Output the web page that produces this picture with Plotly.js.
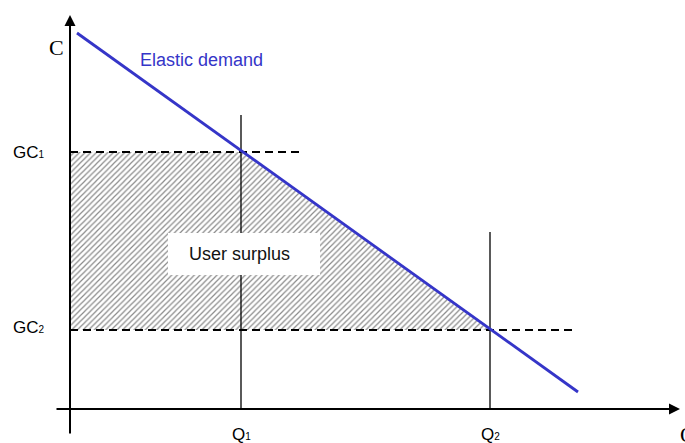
<!DOCTYPE html>
<html><head><meta charset="utf-8">
<script src="https://cdn.plot.ly/plotly-3.0.1.min.js"></script>
<style>html,body{margin:0;padding:0;background:#fff}#chart{width:685px;height:443px}</style>
</head><body><div id="chart"></div>
<script>
// Conceptual coordinates: origin at the axes' intersection
const demandQ = [7, 508];
const demandC = [376, 17];
const Q1 = 171, Q2 = 420;
const GC1 = 257, GC2 = 79;
const Q1Top = 294, Q2Top = 177;
const GC1End = 232, GC2End = 502;
const surplusQ = [0, Q1, Q2, 0, 0];
const surplusC = [GC1, GC1, GC2, GC2, GC1];
const sub = s => "<span style='font-size:10px'>" + s + "</span>";
const tickLabels = {gc1: 'GC' + sub('1'), gc2: 'GC' + sub('2'), q1: 'Q' + sub('1'), q2: 'Q' + sub('2')};

const traces = [
  {x: surplusQ, y: surplusC, mode: 'lines', fill: 'toself', line: {width: 0, color: 'rgba(0,0,0,0)'},
   fillcolor: 'white',
   fillpattern: {shape: '/', fgcolor: '#8a8a8a', bgcolor: 'white', size: 4, solidity: 0.3}, hoverinfo: 'skip'},
  {x: [Q1, Q1], y: [0, Q1Top], mode: 'lines', line: {color: 'black', width: 1.3}},
  {x: [Q2, Q2], y: [0, Q2Top], mode: 'lines', line: {color: 'black', width: 1.3}},
  {x: [0, GC1End], y: [GC1, GC1], mode: 'lines', line: {color: 'black', width: 2, dash: '8px,5px'}},
  {x: [0, GC2End], y: [GC2, GC2], mode: 'lines', line: {color: 'black', width: 2, dash: '8px,5px'}},
  {x: demandQ, y: demandC, mode: 'lines', line: {color: '#3535c8', width: 2.8}}
];

const lbl = {family: 'Liberation Sans, Arial, sans-serif', size: 17, color: 'black'};
const layout = {
  width: 685, height: 443,
  margin: {l: 0, r: 0, t: 0, b: 0},
  paper_bgcolor: 'white', plot_bgcolor: 'white',
  showlegend: false,
  xaxis: {range: [-70, 615], visible: false, fixedrange: true},
  yaxis: {range: [-34, 409], visible: false, fixedrange: true},
  shapes: [
    {type: 'rect', xref: 'x', yref: 'y', x0: 98, x1: 250, y0: 134, y1: 176,
     fillcolor: 'white', line: {width: 0}, layer: 'above'}
  ],
  annotations: [
    // axes with arrows
    {x: 0, y: 394, ax: 0, ay: -26, xref: 'x', yref: 'y', axref: 'x', ayref: 'y', text: '',
     showarrow: true, arrowhead: 2, arrowsize: 1.1, arrowwidth: 2, arrowcolor: 'black'},
    {x: 610, y: 0, ax: -15, ay: 0, xref: 'x', yref: 'y', axref: 'x', ayref: 'y', text: '',
     showarrow: true, arrowhead: 2, arrowsize: 1.1, arrowwidth: 2, arrowcolor: 'black'},
    {x: -14, y: 362, xref: 'x', yref: 'y', text: 'C', showarrow: false,
     font: {family: 'Liberation Serif, Times New Roman, serif', size: 22, color: 'black'}},
    {x: 608, y: -25, xref: 'x', yref: 'y', text: 'Q', showarrow: false, xanchor: 'left',
     font: {family: 'Liberation Serif, Times New Roman, serif', size: 22, color: 'black'}},
    {x: -41, y: GC1, xref: 'x', yref: 'y', text: tickLabels.gc1, showarrow: false, font: lbl},
    {x: -41, y: GC2 + 3, xref: 'x', yref: 'y', text: tickLabels.gc2, showarrow: false, font: lbl},
    {x: Q1, y: -25, xref: 'x', yref: 'y', text: tickLabels.q1, showarrow: false, font: lbl},
    {x: Q2, y: -25, xref: 'x', yref: 'y', text: tickLabels.q2, showarrow: false, font: lbl},
    {x: 131, y: 349, xref: 'x', yref: 'y', text: 'Elastic demand', showarrow: false,
     font: {family: 'Liberation Sans, Arial, sans-serif', size: 18, color: '#3535c8'}},
    {x: 169, y: 155, xref: 'x', yref: 'y', text: 'User surplus', showarrow: false,
     font: {family: 'Liberation Sans, Arial, sans-serif', size: 18, color: '#111'}}
  ]
};
Plotly.newPlot('chart', traces, layout, {staticPlot: true, displayModeBar: false});
</script></body></html>
